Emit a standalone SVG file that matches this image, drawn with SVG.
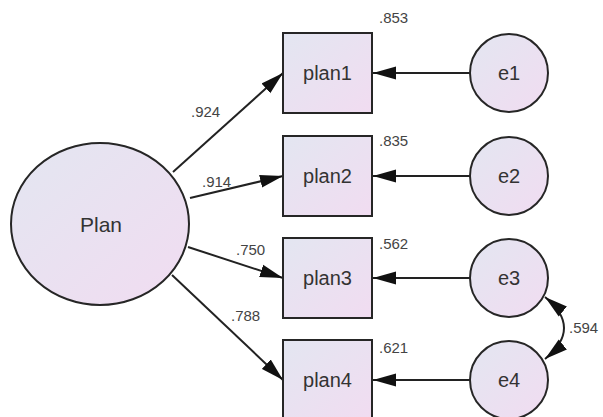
<svg xmlns="http://www.w3.org/2000/svg" width="603" height="417" viewBox="0 0 603 417">
  <defs>
    <linearGradient id="fillGrad" x1="0" y1="0" x2="1" y2="1">
      <stop offset="0" stop-color="#e3e6f1"/>
      <stop offset="1" stop-color="#f1dcf1"/>
    </linearGradient>
    <marker id="arrow" viewBox="0 -7 23 14" refX="23" refY="0" markerWidth="23" markerHeight="14" markerUnits="userSpaceOnUse" orient="auto-start-reverse">
      <path d="M0,-6.5 L23,0 L0,6.5 z" fill="#111"/>
    </marker>
  </defs>
  <style>
    .shape { fill: url(#fillGrad); stroke: #262626; stroke-width: 2; }
    .name { font-family: "Liberation Sans", Arial, sans-serif; font-size: 20px; fill: #333; text-anchor: middle; }
    .val { font-family: "Liberation Sans", Arial, sans-serif; font-size: 15px; fill: #444; }
    .edge { stroke: #222; stroke-width: 2; fill: none; marker-end: url(#arrow); }
    .cov { stroke: #222; stroke-width: 2; fill: none; marker-start: url(#arrow); marker-end: url(#arrow); }
  </style>
  <rect width="603" height="417" fill="#ffffff"/>

  <g id="connectors">
    <line class="edge" x1="173" y1="172" x2="283" y2="73"/>
    <line class="edge" x1="190" y1="198" x2="283" y2="176"/>
    <line class="edge" x1="188" y1="247" x2="283" y2="278"/>
    <line class="edge" x1="172" y1="275" x2="283" y2="380"/>
    <line class="edge" x1="470" y1="73" x2="373" y2="73"/>
    <line class="edge" x1="470" y1="176" x2="373" y2="176"/>
    <line class="edge" x1="470" y1="278" x2="373" y2="278"/>
    <line class="edge" x1="470" y1="380" x2="373" y2="380"/>
    <path class="cov" d="M545,297 Q583,328 545,359"/>
    <text class="val" x="191" y="117">.924</text>
    <text class="val" x="202" y="187">.914</text>
    <text class="val" x="236" y="255">.750</text>
    <text class="val" x="231" y="321">.788</text>
    <text class="val" x="569" y="333">.594</text>
  </g>

  <g id="Plan">
    <ellipse class="shape" cx="100" cy="224" rx="89" ry="81"/>
    <text class="name" x="101" y="232" style="font-size:21px">Plan</text>
  </g>

  <g id="plan1">
    <rect class="shape" x="283" y="33" width="89" height="80"/>
    <text class="name" x="327.5" y="80">plan1</text>
    <text class="val" x="379" y="23">.853</text>
  </g>
  <g id="plan2">
    <rect class="shape" x="283" y="136" width="89" height="80"/>
    <text class="name" x="327.5" y="183">plan2</text>
    <text class="val" x="379" y="146">.835</text>
  </g>
  <g id="plan3">
    <rect class="shape" x="283" y="238" width="89" height="80"/>
    <text class="name" x="327.5" y="285">plan3</text>
    <text class="val" x="379" y="249">.562</text>
  </g>
  <g id="plan4">
    <rect class="shape" x="283" y="340" width="89" height="80"/>
    <text class="name" x="327.5" y="387">plan4</text>
    <text class="val" x="379" y="353">.621</text>
  </g>

  <g id="e1">
    <circle class="shape" cx="509" cy="73" r="39"/>
    <text class="name" x="509" y="80">e1</text>
  </g>
  <g id="e2">
    <circle class="shape" cx="509" cy="176" r="39"/>
    <text class="name" x="509" y="183">e2</text>
  </g>
  <g id="e3">
    <circle class="shape" cx="509" cy="278" r="39"/>
    <text class="name" x="509" y="285">e3</text>
  </g>
  <g id="e4">
    <circle class="shape" cx="509" cy="380" r="39"/>
    <text class="name" x="509" y="387">e4</text>
  </g>
</svg>
